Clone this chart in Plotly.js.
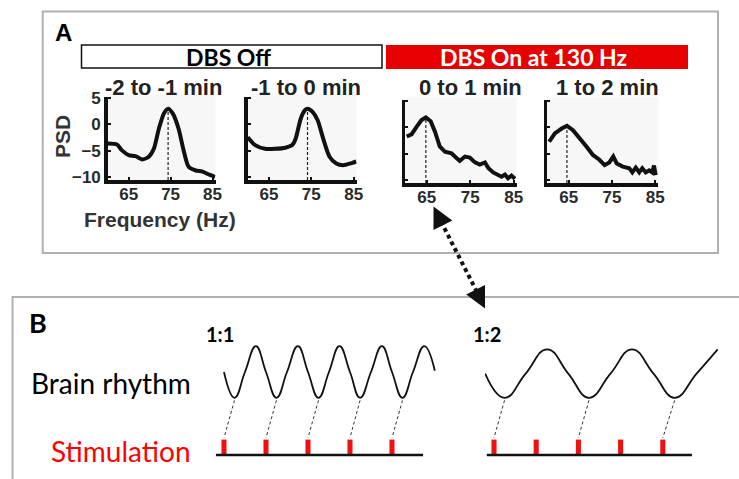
<!DOCTYPE html>
<html><head><meta charset="utf-8">
<script src="https://cdn.plot.ly/plotly-3.0.1.min.js"></script>
<style>html,body{margin:0;padding:0;background:#fff}#chart{width:739px;height:479px}</style>
</head><body><div id="chart"></div>
<script>
// ---------- DATA ----------
const freqTicks = [65, 75, 85];
const psdTicks = [5, 0, -5, -10];
const panelTitles = ['-2 to -1 min', '-1 to 0 min', '0 to 1 min', '1 to 2 min'];
const groupLabels = ['DBS Off', 'DBS On at 130 Hz'];

const f1 = [60, 62.2, 63.4, 65, 66.6, 68.2, 69.8, 71, 72.2, 73.4, 74.4, 75.5, 76.9, 78.1, 79.3, 81, 82.6, 84.2, 85.6];
const p1 = [-3.6, -3.8, -4.9, -5.8, -6.0, -6.6, -6.1, -4.6, -0.8, 2.1, 3.0, 2.1, -0.8, -4.9, -8.0, -8.7, -8.9, -9.5, -9.9];
const f2 = [60, 61.75, 64.1, 66.5, 68.9, 70.5, 71.3, 72.5, 73.5, 74.1, 75.3, 76.5, 77.7, 79.3, 80.9, 82.5, 84.5, 85.6];
const p2 = [-2.4, -3.9, -4.6, -4.6, -4.4, -3.9, -2.7, 1.1, 2.7, 3.0, 2.4, 0.8, -2.4, -6.1, -7.4, -7.7, -7.3, -7.0];
const f3 = [60.4, 61.5, 62.7, 63.8, 64.8, 65.9, 66.9, 68.0, 69.2, 70.7, 71.9, 72.6, 73.8, 74.9, 76.1, 77.2, 78.4, 79.2, 80.3, 81.4, 82.2, 83.0, 83.7, 84.5, 85.3];
const p3 = [-1.7, -1.3, 0.15, 1.4, 1.9, 1.2, -0.8, -3.6, -4.6, -4.9, -5.8, -6.3, -5.5, -5.7, -6.6, -7.0, -6.6, -7.7, -8.5, -8.9, -9.3, -8.9, -9.6, -9.1, -9.7];
const f4 = [60.5, 61.8, 63.4, 64.6, 66.0, 67.6, 69.1, 70.6, 72.1, 73.3, 74.4, 75.3, 76.1, 77.5, 79.0, 79.7, 80.5, 81.3, 82.0, 82.8, 83.6, 84.3, 84.7, 85.1];
const p4 = [-2.7, -1.1, -0.2, 0.3, -0.5, -2.0, -3.6, -5.2, -6.1, -7.1, -6.6, -5.5, -6.8, -7.4, -7.7, -8.5, -7.6, -8.5, -7.7, -8.5, -8.1, -8.5, -7.2, -9.0];
const peakFreq = [74.4, 74.1, 64.8, 64.6];
const peakPSD = [3.0, 3.0, 1.9, 0.3];

// Panel B (time in stimulation periods, rhythm in relative amplitude)
const ratioLabels = ['1:1', '1:2'];
const stimT = [0, 1, 2, 3, 4];
const rhythm1T = [0, 0.25, 0.5, 0.76, 1.0, 1.25, 1.5, 1.76, 2.0, 2.25, 2.5, 2.75, 3.0, 3.24, 3.5, 3.76, 4.0, 4.25, 4.5, 4.77, 5.02];
const rhythm1Y = [0, -1, 0, 1, 0, -1, 0, 1, 0, -1, 0, 1, 0, -1, 0, 1, 0, -1, 0, 1, 0.05];
const rhythm2T = [-0.21, 0.25, 0.75, 1.26, 1.76, 2.25, 2.76, 3.27, 3.78, 4.28, 4.8, 5.3];
const rhythm2Y = [-0.06, -1, -0.06, 0.88, -0.06, -1, -0.06, 0.88, -0.06, -1, -0.06, 0.88];
const trough1T = [0.25, 1.25, 2.25, 3.24, 4.25];
const locked1T = [0, 1, 2, 3, 4];
const trough2T = [0.25, 2.25, 4.28];
const locked2T = [0, 2, 4];
const stimSpan1 = [-0.21, 4.74];
const stimSpan2 = [-0.17, 4.69];

// ---------- LAYOUT HELPERS ----------
const W = 739, H = 479;
const xd = (a, b) => [a / W, b / W];
const yd = (top, bot) => [1 - bot / H, 1 - top / H];
const PX = x => x / W, PY = y => 1 - y / H;

const stimBase = -3.22, stimTop = -2.62, connTop = -1.1, connBot = -2.55;

const traces = [];
const psdF = [f1, f2, f3, f4], psdP = [p1, p2, p3, p4];
for (let i = 0; i < 4; i++) {
  const xa = i === 0 ? 'x' : 'x' + (i + 1), ya = i === 0 ? 'y' : 'y' + (i + 1);
  traces.push({x: [peakFreq[i], peakFreq[i]], y: [-10.5, peakPSD[i]], xaxis: xa, yaxis: ya, mode: 'lines',
    line: {color: '#222', width: 1.2, dash: '3px,2px'}, hoverinfo: 'skip', showlegend: false});
  traces.push({x: psdF[i], y: psdP[i], xaxis: xa, yaxis: ya, mode: 'lines',
    line: {color: '#111', width: 4, shape: i < 2 ? 'spline' : 'linear', smoothing: 0.7}, showlegend: false});
}
// Panel B
function connectors(tt, lt) {
  const x = [], y = [];
  tt.forEach((t, k) => { x.push(t, lt[k], null); y.push(connTop, connBot, null); });
  return {x, y};
}
[[rhythm1T, rhythm1Y, trough1T, locked1T, stimSpan1, 'x5', 'y5'],
 [rhythm2T, rhythm2Y, trough2T, locked2T, stimSpan2, 'x6', 'y6']].forEach(([rt, ry, tt, lt, span, xa, ya]) => {
  traces.push({x: rt, y: ry, xaxis: xa, yaxis: ya, mode: 'lines',
    line: {color: '#111', width: 1.8, shape: 'spline', smoothing: 1.3}, showlegend: false});
  const c = connectors(tt, lt);
  traces.push({x: c.x, y: c.y, xaxis: xa, yaxis: ya, mode: 'lines',
    line: {color: '#333', width: 1, dash: '3px,2.5px'}, showlegend: false});
  traces.push({x: span, y: span.map(() => stimBase), xaxis: xa, yaxis: ya, mode: 'lines',
    line: {color: '#111', width: 2.5}, showlegend: false});
  traces.push({type: 'bar', x: stimT, y: stimT.map(() => stimTop - stimBase), base: stimBase,
    width: 0.12, xaxis: xa, yaxis: ya, marker: {color: '#ee1111', line: {width: 0}}, showlegend: false});
});

const tickFont = {family: 'Liberation Sans, Arial, sans-serif', size: 17, color: '#2a2a2a', weight: 'bold'};
function psdX(dom, anchor) {
  return {domain: dom, anchor, range: [60, 85.7], showline: true, linewidth: 3.5, linecolor: '#111',
    tickmode: 'array', tickvals: freqTicks, ticks: 'inside', ticklen: 3, tickwidth: 2, tickcolor: '#111',
    ticklabelstandoff: -4,
    tickfont: tickFont, showgrid: false, zeroline: false, fixedrange: true};
}
function psdY(dom, anchor, labels) {
  return {domain: dom, anchor, range: [-10.5, 5.2], showline: true, linewidth: 3.5, linecolor: '#111',
    tickmode: 'array', tickvals: psdTicks, ticks: 'inside', ticklen: 3, tickwidth: 2, tickcolor: '#111',
    showticklabels: labels, tickfont: tickFont, showgrid: false, zeroline: false, fixedrange: true};
}
const hidden = (dom, anchor, range) => ({domain: dom, anchor, range, visible: false, fixedrange: true});

const layout = {
  width: W, height: H, margin: {l: 0, r: 0, t: 0, b: 0},
  paper_bgcolor: '#fff', plot_bgcolor: 'rgba(0,0,0,0)', showlegend: false,
  xaxis: psdX(xd(107.7, 215.5), 'y'), yaxis: psdY(yd(97, 180), 'x', true),
  xaxis2: psdX(xd(247.7, 356.7), 'y2'), yaxis2: psdY(yd(97, 180), 'x2', false),
  xaxis3: psdX(xd(405, 516.7), 'y3'), yaxis3: psdY(yd(100, 183), 'x3', false),
  xaxis4: psdX(xd(547, 658.3), 'y4'), yaxis4: psdY(yd(100, 183), 'x4', false),
  xaxis5: hidden(xd(216, 436), 'y5', [-0.19, 5.048]), yaxis5: hidden(yd(340, 460), 'x5', [-3.411, 1.240]),
  xaxis6: hidden(xd(485, 720), 'y6', [-0.213, 5.355]), yaxis6: hidden(yd(340, 460), 'x6', [-3.411, 1.240]),
  shapes: [], annotations: []
};
const S = layout.shapes, A = layout.annotations;
// frames
S.push({type: 'rect', xref: 'paper', yref: 'paper', x0: PX(42.7), x1: PX(718), y0: PY(253), y1: PY(11.5),
  line: {color: '#b0b0b0', width: 2}, fillcolor: 'rgba(0,0,0,0)', layer: 'below'});
S.push({type: 'rect', xref: 'paper', yref: 'paper', x0: PX(12.5), x1: PX(760), y0: PY(500), y1: PY(297),
  line: {color: '#b0b0b0', width: 2}, fillcolor: 'rgba(0,0,0,0)', layer: 'below'});
// group boxes
S.push({type: 'rect', xref: 'paper', yref: 'paper', x0: PX(81.5), x1: PX(382), y0: PY(68), y1: PY(45),
  line: {color: '#111', width: 1.5}, fillcolor: '#fff'});
S.push({type: 'rect', xref: 'paper', yref: 'paper', x0: PX(386), x1: PX(688), y0: PY(69), y1: PY(45),
  line: {width: 0}, fillcolor: '#e60000'});
// plot backgrounds
['', '2', '3', '4'].forEach(s => {
  S.push({type: 'rect', xref: 'x' + s + ' domain', yref: 'y' + s + ' domain', x0: 0, x1: 1, y0: 0, y1: 1.03,
    fillcolor: '#f7f7f7', line: {width: 0}, layer: 'below'});
});
// double arrow (dotted)
S.push({type: 'line', xref: 'paper', yref: 'paper', x0: PX(441), y0: PY(221.5), x1: PX(477.5), y1: PY(293),
  line: {color: '#111', width: 4, dash: '4px,3.5px'}});
A.push({xref: 'paper', yref: 'paper', x: PX(433.5), y: PY(206.5), ax: 8, ay: 16, text: '', showarrow: true,
  arrowhead: 2, arrowsize: 1.4, arrowwidth: 3, arrowcolor: '#111'});
A.push({xref: 'paper', yref: 'paper', x: PX(485), y: PY(308.5), ax: -8, ay: -16, text: '', showarrow: true,
  arrowhead: 2, arrowsize: 1.4, arrowwidth: 3, arrowcolor: '#111'});

function txt(t, x, y, font, extra) {
  A.push(Object.assign({xref: 'paper', yref: 'paper', x: PX(x), y: PY(y), text: t, showarrow: false,
    xanchor: 'center', yanchor: 'middle', font}, extra || {}));
}
const arialB = (size, color) => ({family: 'Liberation Sans, Arial, sans-serif', size, color: color || '#222', weight: 'bold'});
const lato = (size, color, w) => ({family: 'Lato, Carlito, sans-serif', size, color: color || '#111', weight: w || 'normal'});

txt('A', 63, 32, arialB(24, '#000'));
txt(groupLabels[0], 228, 57, lato(23, '#000', 'bold'));
txt(groupLabels[1], 533, 57, lato(23, '#fff', 'bold'));
const titleX = [163, 306, 470, 607];
panelTitles.forEach((t, i) => txt(t, titleX[i], 87, arialB(22)));
txt('PSD', 63, 137, arialB(21, '#333'), {textangle: -90});
txt('Frequency (Hz)', 160, 219, arialB(21, '#333'), {borderpad: 0});

txt('B', 38, 322, lato(27, '#000', 'bold'));
txt(ratioLabels[0], 220, 334, lato(20, '#000', 'bold'));
txt(ratioLabels[1], 487, 334, lato(20, '#000', 'bold'));
txt('Brain rhythm', 111, 383, lato(28, '#000'));
txt('Stimulation', 121, 451, lato(28, '#ff0000'));

Plotly.newPlot('chart', traces, layout, {staticPlot: true, displayModeBar: false});
</script></body></html>
